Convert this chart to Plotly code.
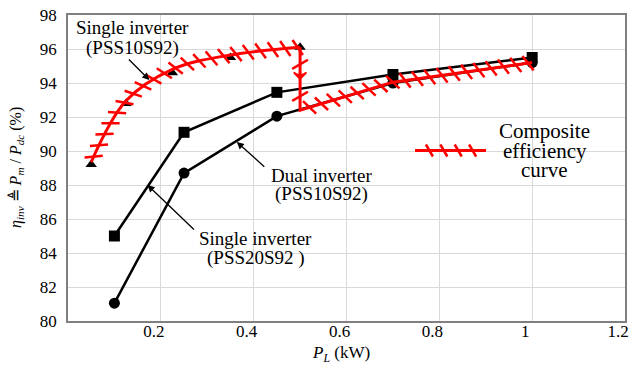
import math
import plotly.graph_objects as go

# ---------------- data ----------------
load_kw = [0.1, 0.25, 0.45, 0.7, 1.0]
eff_dual_10s92 = [85.0, 91.1, 93.45, 94.5, 95.5]        # squares
eff_single_20s92 = [81.05, 88.7, 92.05, 94.0, 95.2]     # circles

load_single_10 = [0.05, 0.125, 0.225, 0.35, 0.5]
eff_single_10s92 = [89.2, 92.8, 94.6, 95.5, 96.1]       # triangles

comp_upper_x = [0.05, 0.125, 0.225, 0.35, 0.5]
comp_upper_y = [89.35, 92.95, 94.8, 95.65, 96.1]
comp_drop_x = [0.5, 0.5]
comp_drop_y = [96.1, 92.4]
comp_lower_x = [0.5, 0.7, 1.0]
comp_lower_y = [92.4, 94.05, 95.2]

x_ticks = [0.2, 0.4, 0.6, 0.8, 1.0, 1.2]
x_tick_text = ["0.2", "0.4", "0.6", "0.8", "1", "1.2"]
y_ticks = [80, 82, 84, 86, 88, 90, 92, 94, 96, 98]

# ---------------- layout geometry ----------------
W, H = 633, 367
ML, MR, MT, MB = 68, 4, 15, 46
XR = [0, 1.2]
YR = [80, 98]
PW = W - ML - MR
PH = H - MT - MB
FONT = "Liberation Serif"
RED = "#ff0000"


def to_px(x, y):
    return (ML + (x - XR[0]) / (XR[1] - XR[0]) * PW,
            MT + (YR[1] - y) / (YR[1] - YR[0]) * PH)


def to_data(px, py):
    return (XR[0] + (px - ML) / PW * (XR[1] - XR[0]),
            YR[1] - (py - MT) / PH * (YR[1] - YR[0]))


# plotly.js spline (smoothing=1) reproduced, to place the hatch marks on it
def make_tangent(p0, p1, p2, s=1.0):
    d1x, d1y = p0[0] - p1[0], p0[1] - p1[1]
    d2x, d2y = p2[0] - p1[0], p2[1] - p1[1]
    d1a = (d1x * d1x + d1y * d1y) ** 0.25
    d2a = (d2x * d2x + d2y * d2y) ** 0.25
    numx = (d2a * d2a * d1x - d1a * d1a * d2x) * s
    numy = (d2a * d2a * d1y - d1a * d1a * d2y) * s
    den1 = 3 * d2a * (d1a + d2a)
    den2 = 3 * d1a * (d1a + d2a)
    return [(p1[0] + numx / den1, p1[1] + numy / den1),
            (p1[0] - numx / den2, p1[1] - numy / den2)]


def quad(a, c, b, n=40):
    return [((1 - t) ** 2 * a[0] + 2 * (1 - t) * t * c[0] + t * t * b[0],
             (1 - t) ** 2 * a[1] + 2 * (1 - t) * t * c[1] + t * t * b[1])
            for t in [i / n for i in range(1, n + 1)]]


def cubic(a, c1, c2, b, n=40):
    out = []
    for i in range(1, n + 1):
        t = i / n
        u = 1 - t
        out.append((u ** 3 * a[0] + 3 * u * u * t * c1[0] + 3 * u * t * t * c2[0] + t ** 3 * b[0],
                    u ** 3 * a[1] + 3 * u * u * t * c1[1] + 3 * u * t * t * c2[1] + t ** 3 * b[1]))
    return out


def spline_path(pts):
    tan = [make_tangent(pts[i - 1], pts[i], pts[i + 1]) for i in range(1, len(pts) - 1)]
    path = [pts[0]]
    path += quad(pts[0], tan[0][0], pts[1])
    for i in range(2, len(pts) - 1):
        path += cubic(pts[i - 1], tan[i - 2][1], tan[i - 1][0], pts[i])
    path += quad(pts[-2], tan[-1][1], pts[-1])
    return path


def linear_path(pts):
    out = [pts[0]]
    for a, b in zip(pts[:-1], pts[1:]):
        out += [(a[0] + (b[0] - a[0]) * i / 20, a[1] + (b[1] - a[1]) * i / 20) for i in range(1, 21)]
    return out


def hatches(path, step=12.5, start=6.0):
    hx, hy, ang = [], [], []
    acc = 0.0
    nxt = start
    for (a, b) in zip(path[:-1], path[1:]):
        seg = math.hypot(b[0] - a[0], b[1] - a[1])
        while seg > 0 and acc + seg >= nxt:
            t = (nxt - acc) / seg
            px = a[0] + t * (b[0] - a[0])
            py = a[1] + t * (b[1] - a[1])
            phi = math.degrees(math.atan2(b[1] - a[1], b[0] - a[0]))
            x, y = to_data(px, py)
            hx.append(x)
            hy.append(y)
            ang.append(phi - 30)
            nxt += step
        acc += seg
    return hx, hy, ang


h1 = hatches(spline_path([to_px(x, y) for x, y in zip(comp_upper_x, comp_upper_y)]))
h2 = hatches(linear_path([to_px(x, y) for x, y in zip(comp_drop_x, comp_drop_y)]), step=32, start=17)
h3 = hatches(linear_path([to_px(x, y) for x, y in zip(comp_lower_x, comp_lower_y)]), start=10)

fig = go.Figure()

# black series
fig.add_trace(go.Scatter(x=load_kw, y=eff_dual_10s92, mode="lines+markers",
                         line=dict(color="black", width=2.5),
                         marker=dict(symbol="square", size=11, color="black"),
                         showlegend=False))
fig.add_trace(go.Scatter(x=load_kw, y=eff_single_20s92, mode="lines+markers",
                         line=dict(color="black", width=2.5),
                         marker=dict(symbol="circle", size=11, color="black"),
                         showlegend=False))
fig.add_trace(go.Scatter(x=load_single_10, y=eff_single_10s92, mode="markers",
                         marker=dict(symbol="triangle-up", size=10, color="black"),
                         showlegend=False))

# composite efficiency curve (red)
fig.add_trace(go.Scatter(x=comp_upper_x, y=comp_upper_y, mode="lines",
                         line=dict(color=RED, width=3, shape="spline"),
                         showlegend=False))
fig.add_trace(go.Scatter(x=comp_drop_x + comp_lower_x[1:], y=comp_drop_y + comp_lower_y[1:],
                         mode="lines", line=dict(color=RED, width=3),
                         showlegend=False))
for hx, hy, ang in (h1, h2, h3):
    fig.add_trace(go.Scatter(x=hx, y=hy, mode="markers",
                             marker=dict(symbol="line-ns", size=13, angle=ang, color=RED,
                                         line=dict(color=RED, width=2.5)),
                             showlegend=False, hoverinfo="skip"))
# arrow head on the vertical drop
fig.add_trace(go.Scatter(x=[comp_drop_x[0]], y=[(comp_drop_y[0] + comp_drop_y[1]) / 2],
                         mode="markers",
                         marker=dict(symbol="arrow-wide-open", size=9, angle=180, color=RED,
                                     line=dict(color=RED, width=2)),
                         showlegend=False, hoverinfo="skip"))

# legend sample for composite curve (shapes in paper coords)
lx0, lx1, ly = (417.5 - ML) / PW, (489 - ML) / PW, 1 - (150.5 - MT) / PH
fig.add_shape(type="line", xref="paper", yref="paper", x0=lx0, x1=lx1, y0=ly, y1=ly,
              line=dict(color=RED, width=3))
for hpx in [432, 446.5, 461, 475.5]:
    xa = (hpx - ML) / PW
    fig.add_shape(type="line", xref="paper", yref="paper",
                  xsizemode="pixel", ysizemode="pixel", xanchor=xa, yanchor=ly,
                  x0=-3.5, x1=3.5, y0=6, y1=-6, line=dict(color=RED, width=2.5))

ann = []


def txt(text, px, py, size):
    xa = (px - ML) / PW
    ya = 1 - (py - MT) / PH
    ann.append(dict(text=text, xref="paper", yref="paper", x=xa, y=ya,
                    xanchor="center", yanchor="middle", showarrow=False,
                    font=dict(family=FONT, size=size, color="black")))


txt("Single inverter", 132.5, 28, 19)
txt("(PSS10S92)", 132.5, 48, 19)
txt("Dual inverter", 323, 175, 19)
txt("(PSS10S92)", 323, 194, 19)
txt("Single inverter", 257, 239, 19)
txt("(PSS20S92 )", 257, 258, 19)
txt("Composite", 548, 131, 21)
txt("efficiency", 548, 150.5, 21)
txt("curve", 548, 170, 21)


def arrow(head_px, tail_px):
    x, y = to_data(*head_px)
    ann.append(dict(text="", x=x, y=y, xref="x", yref="y", showarrow=True,
                    ax=tail_px[0] - head_px[0], ay=tail_px[1] - head_px[1],
                    arrowhead=2, arrowsize=1.1, arrowwidth=1.3, arrowcolor="black",
                    standoff=0, startstandoff=0))


arrow((150, 80), (128, 58))
arrow((238, 142), (267, 168))
arrow((148, 185), (196, 231))

# axis titles
ann.append(dict(text="<i>η</i><sub><i>inv</i></sub> ≜ <i>P</i><sub><i>m</i></sub> / <i>P</i><sub><i>dc</i></sub> (%)",
                xref="paper", yref="paper", x=0, y=0.5, xshift=-52, textangle=-90,
                xanchor="center", yanchor="middle", showarrow=False,
                font=dict(family=FONT, size=16, color="black")))
ann.append(dict(text="<i>P</i><sub><i>L</i></sub> (kW)", xref="paper", yref="paper",
                x=0.49, y=0, yshift=-33, xanchor="center", yanchor="middle", showarrow=False,
                font=dict(family=FONT, size=17, color="black")))

fig.update_layout(
    width=W, height=H,
    margin=dict(l=ML, r=MR, t=MT, b=MB),
    paper_bgcolor="white", plot_bgcolor="white",
    font=dict(family=FONT, color="black"),
    annotations=ann,
    xaxis=dict(range=XR, tickvals=x_ticks, ticktext=x_tick_text, showgrid=True,
               gridcolor="#d9d9d9", gridwidth=1, zeroline=False,
               showline=True, linecolor="#808080", linewidth=1.5, mirror=True,
               ticks="", ticklabelshift=-7, ticklabelstandoff=-6,
               tickfont=dict(family=FONT, size=17, color="black")),
    yaxis=dict(range=YR, tickvals=y_ticks, showgrid=True,
               gridcolor="#d9d9d9", gridwidth=1, zeroline=False,
               showline=True, linecolor="#808080", linewidth=1.5, mirror=True,
               ticks="", ticklabelstandoff=6,
               tickfont=dict(family=FONT, size=17, color="black")),
)

fig.write_html("out.html")
